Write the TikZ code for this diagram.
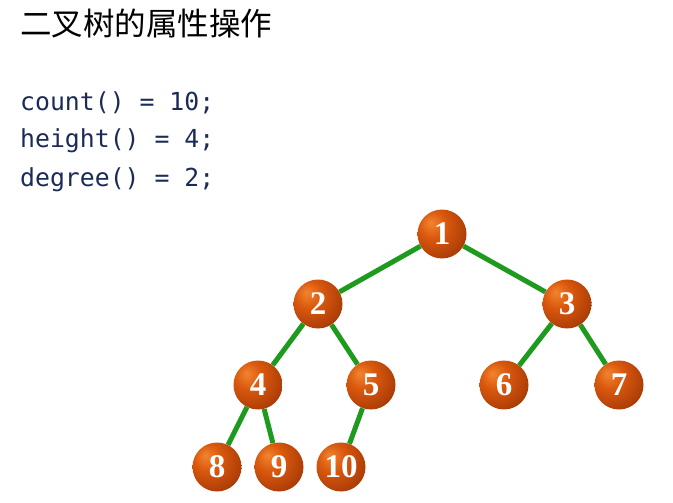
\documentclass[tikz,border=0pt]{standalone}
\usepackage{fontspec}
\setmainfont{Liberation Serif}
\setmonofont{DejaVu Sans Mono}
\newfontfamily\cjk{Noto Sans CJK SC}
\usetikzlibrary{positioning}
\definecolor{codeBlue}{HTML}{1B2A57}
\definecolor{edgeGreen}{HTML}{1E9A1E}
\definecolor{ballHi}{HTML}{F2842E}
\definecolor{ballMid}{HTML}{D9580E}
\definecolor{ballDk}{HTML}{9A3204}
\pgfdeclareradialshading{orangeball}{\pgfpoint{-12bp}{12bp}}{color(0bp)=(ballHi); color(14bp)=(ballMid); color(40bp)=(ballDk); color(70bp)=(ballDk!85!black)}

\begin{document}
\begin{tikzpicture}[x=1pt, y=-1pt,
  nd/.style={circle, shading=orangeball, minimum size=49pt, inner sep=0pt,
    text=white, font=\fontsize{33}{33}\selectfont\bfseries},
  br/.style={draw=edgeGreen, line width=5pt},
  code/.style={anchor=base west, text=codeBlue, inner sep=0pt,
    font=\fontsize{24.8}{24.8}\selectfont\ttfamily}]
\useasboundingbox (0,0) rectangle (673,503);
% title and properties
\node[anchor=base west, inner sep=0pt, font=\fontsize{31.5}{31.5}\selectfont\cjk] (title) at (20,36) {二叉树的属性操作};
\node[code] (cnt) at (20,111) {count() = 10;};
\node[code] (hgt) at (20,148) {height() = 4;};
\node[code] (deg) at (20,186) {degree() = 2;};
% tree
\node[nd] (n1) at (442,234) {1};
\node[nd] (n2) at (318,304) {2}; \node[nd] (n3) at (567,304) {3};
\node[nd] (n4) at (258,385) {4}; \node[nd] (n5) at (371,385) {5};
\node[nd] (n6) at (504,385) {6}; \node[nd] (n7) at (619,385) {7};
\node[nd] (n8) at (217,467) {8}; \node[nd] (n9) at (279,467) {9};
\node[nd] (n10) at (341,467) {10};
\draw[br] (n1)--(n2); \draw[br] (n1)--(n3);
\draw[br] (n2)--(n4); \draw[br] (n2)--(n5);
\draw[br] (n3)--(n6); \draw[br] (n3)--(n7);
\draw[br] (n4)--(n8); \draw[br] (n4)--(n9);
\draw[br] (n5)--(n10);
\end{tikzpicture}
\end{document}
